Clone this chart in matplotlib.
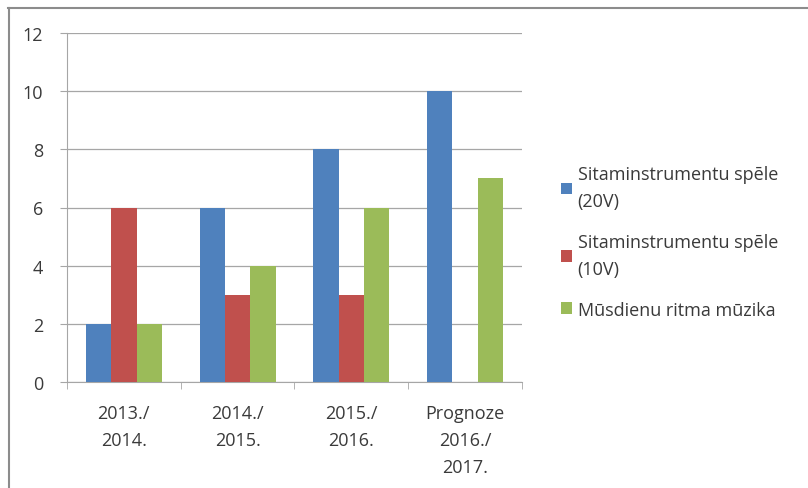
import matplotlib.pyplot as plt
from matplotlib.lines import Line2D
import numpy as np

categories = ['2013./\n2014.', '2014./\n2015.', '2015./\n2016.', 'Prognoze\n2016./\n2017.']
series_names = ['Sitaminstrumentu spēle\n(20V)', 'Sitaminstrumentu spēle\n(10V)', 'Mūsdienu ritma mūzika']
blue_20v = [2, 6, 8, 10]
red_10v = [6, 3, 3, 0]
green_ritms = [2, 4, 6, 7]
colors = ['#4F81BD', '#C0504D', '#9BBB59']

plt.rcParams['font.family'] = ['Open Sans', 'DejaVu Sans']
txt = '#3A3A3A'

fig = plt.figure(figsize=(8.08, 4.89), dpi=100)
ax = fig.add_axes([67/808, 1-383/489, (522-67)/808, (383-34)/489])

x = np.arange(len(categories))
w = 1/4.5
for i, (vals, name) in enumerate(zip([blue_20v, red_10v, green_ritms], series_names)):
    ax.bar(x + (i-1)*w, vals, width=w, color=colors[i], label=name, zorder=3)

ax.set_xlim(-0.5, len(categories)-0.5)
ax.set_ylim(0, 12)
ax.set_yticks(range(0, 13, 2))
ax.grid(axis='y', color='#A6A6A6', linewidth=0.9, zorder=0)
for s in ['top', 'right']:
    ax.spines[s].set_visible(False)
for s in ['left', 'bottom']:
    ax.spines[s].set_color('#A6A6A6')
ax.set_xticks(x)
ax.set_xticklabels(categories, fontsize=13, color=txt, linespacing=1.65)
ax.set_xticks(np.arange(-0.5, len(categories)), minor=True)
ax.tick_params(axis='x', which='major', length=0, pad=16)
ax.tick_params(axis='x', which='minor', length=5, color='#A6A6A6')
ax.tick_params(axis='y', length=5, color='#A6A6A6', labelsize=13, labelcolor=txt, pad=12)

leg = ax.legend(loc='upper left', bbox_to_anchor=(545/808, 1-150/489), bbox_transform=fig.transFigure,
                frameon=False, fontsize=13, handlelength=0.6, handleheight=0.6, handletextpad=0.3,
                labelspacing=1.25)
for t in leg.get_texts():
    t.set_color(txt)
    t.set_linespacing(1.65)

fig.add_artist(Line2D([8/808, 1], [1-9/489, 1-9/489], transform=fig.transFigure, color='#8C8C8C', linewidth=1.5))
fig.add_artist(Line2D([9/808, 9/808], [0, 1-9/489], transform=fig.transFigure, color='#8C8C8C', linewidth=1.5))

fig.savefig('out.png', dpi=100)
